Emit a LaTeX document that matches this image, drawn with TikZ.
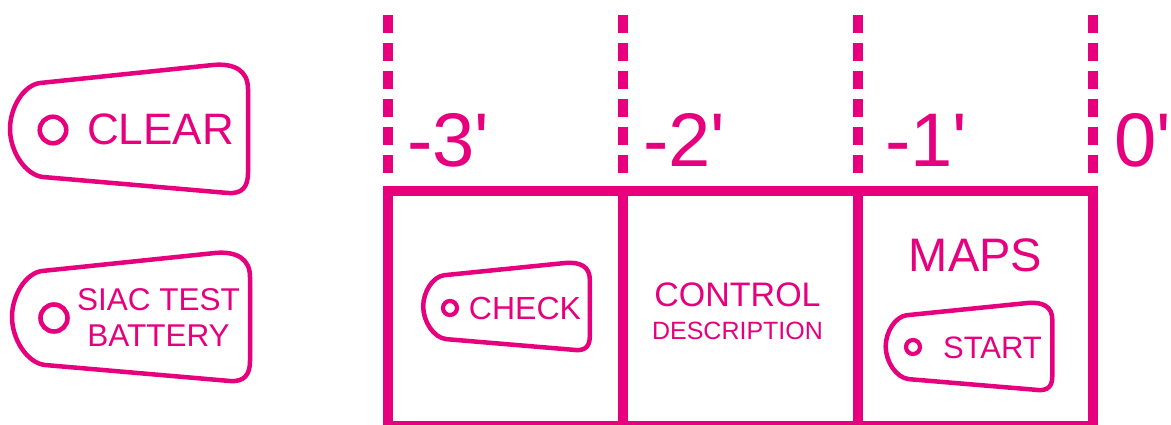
\documentclass[tikz,border=0pt]{standalone}
\usepackage{fontspec}
\setmainfont{Liberation Sans}[Ligatures=TeXOff]
\usepackage{tikz}
\definecolor{ink}{HTML}{E6007E}
\newcommand{\pxsize}[1]{\fontsize{#1}{#1}\selectfont}

\begin{document}
\begin{tikzpicture}[x=1pt, y=-1pt,
    boxline/.style={draw=ink, line width=10pt},
    tickline/.style={draw=ink, line width=10pt, dash pattern=on 18pt off 10pt},
    btnline/.style={draw=ink, line width=4.5pt, line join=round},
    lamp/.style={circle, draw=ink, inner sep=0pt},
    lbl/.style={text=ink, inner sep=0pt},
    button/.pic={
      \draw[btnline] (-89,-46) -- (84,-64)
        .. controls (106,-66) and (119,-58) .. (119,-40) -- (119,44)
        .. controls (119,58) and (113,65) .. (99,64) -- (-86,48)
        .. controls (-104,46) and (-119,22) .. (-119,0)
        .. controls (-119,-22) and (-105,-44) .. (-89,-46) -- cycle;
    }]
  \useasboundingbox (0,0) rectangle (1171,425);

  % time ticks above the panel
  \foreach \x in {388, 622.5, 858, 1093}
    \draw[tickline] (\x,15) -- (\x,173);
  \foreach \x/\lab/\nm in {407/-3'/m3, 643/-2'/m2, 885/-1'/m1, 1114/0'/z}
    \node[lbl, anchor=west, font=\pxsize{76}] (t\nm) at (\x,140) {\lab};

  % panel
  \draw[boxline] (388,191) rectangle (1093,425.7);
  \draw[boxline] (622.5,191) -- (622.5,425.7);
  \draw[boxline] (858,191) -- (858,425.7);

  % buttons on the left
  \pic (clear) at (129,129) {button};
  \node[lamp, line width=4.6pt, minimum size=26.5pt] (clearlamp) at (53,130) {};
  \node[lbl, font=\pxsize{44}] (clear) at (160.5,129) {CLEAR};

  \pic (siac) at (131,317) {button};
  \node[lamp, line width=4.6pt, minimum size=27pt] (siaclamp) at (54,318) {};
  \node[lbl, font=\fontsize{31.5}{36}\selectfont, align=center] (siac) at (158.5,318) {SIAC TEST\\BATTERY};

  % buttons in the panel
  \pic[xscale=0.70, yscale=0.68] (check) at (506.5,306.5) {button};
  \node[lamp, line width=4.2pt, minimum size=14pt] (checklamp) at (450,308) {};
  \node[lbl, font=\pxsize{32}] (check) at (525,308) {CHECK};

  \node[lbl, font=\pxsize{34}] (control) at (737.5,295) {CONTROL};
  \node[lbl, font=\pxsize{25}] (descr) at (737.5,331) {DESCRIPTION};

  \node[lbl, font=\pxsize{47}] (maps) at (975.5,255) {MAPS};
  \pic[xscale=0.70, yscale=0.68] (start) at (969,346.5) {button};
  \node[lamp, line width=4.2pt, minimum size=14pt] (startlamp) at (913,347) {};
  \node[lbl, font=\pxsize{31}] (start) at (992.5,348) {START};
\end{tikzpicture}
\end{document}
